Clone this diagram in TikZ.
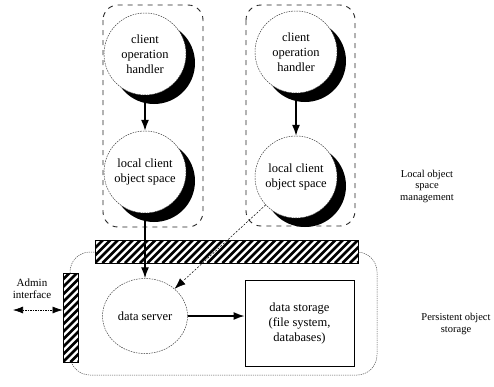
\documentclass[tikz,border=0pt]{standalone}
\usepackage{fontspec}
\setmainfont{Liberation Serif}
\usetikzlibrary{shapes.geometric,shadows,arrows.meta}

\begin{document}
\begin{tikzpicture}[x=1pt,y=-1pt,
  txt/.style={font=\fontsize{12.5}{15}\selectfont, align=center, inner sep=0pt},
  side/.style={font=\fontsize{10.5}{11.5}\selectfont, align=center, inner sep=0pt},
  thinline/.style={line width=0.5pt, dash pattern=on 1.6pt off 1pt},
  proc/.style={circle, txt, draw=black!75, thinline, fill=white, minimum size=82pt,
    general shadow={fill=black, draw=none, shadow xshift=9pt, shadow yshift=-9pt}},
  server/.style={ellipse, txt, draw=black!75, thinline, fill=white,
    minimum width=85pt, minimum height=75pt},
  store/.style={rectangle, txt, draw=black, line width=1pt, fill=white,
    minimum width=109pt, minimum height=86pt},
  group/.style={draw=black!85, line width=0.9pt, dash pattern=on 5pt off 5pt, rounded corners=15pt},
  hatchbar/.style={rectangle, draw=black, line width=0.9pt, fill=white, inner sep=0pt,
    path picture={\foreach \k in {-14,...,37}
      \draw[line width=2.5pt] ([xshift=\k*7.5pt]path picture bounding box.south west) -- ++(100pt,100pt);}},
  flow/.style={line width=1.3pt, -{Latex[length=11pt,width=8pt]}},
  weak/.style={line width=0.5pt, dash pattern=on 2pt off 1.5pt, -{Latex[length=11pt,width=8pt]}},
]
\useasboundingbox (0,0) rectangle (494,386);

% dashed groups of the local object space
\draw[group] (103,5) rectangle (203,227);
\draw[group] (246,5) rectangle (355,226);

% persistent storage outline
\draw[line width=0.5pt, dash pattern=on 1.2pt off 1pt, draw=black!70, rounded corners=20pt]
  (70,252) rectangle (377,375);

% client side processes
\node[proc] (ch1) at (145,54) {client\\operation\\handler};
\node[proc] (lc1) at (145,172) {local client\\object space};
\node[proc] (ch2) at (296,52) {client\\operation\\handler};
\node[proc] (lc2) at (296,177) {local client\\object space};

% storage layer
\node[hatchbar, minimum width=263pt, minimum height=23pt] (topbar) at (226.5,251.5) {};
\node[hatchbar, minimum width=15pt, minimum height=89pt] (sidebar) at (70.5,317.5) {};
\node[server] (ds) at (145,316) {data server};
\node[store] (st) at (299.5,323) {data storage\\(file system,\\databases)};

% labels
\node[side] (lblocal) at (427,186) {Local object\\space\\management};
\node[side] (lblpers) at (456,324) {Persistent object\\storage};
\node[side, font=\fontsize{11}{12}\selectfont] (admin) at (32,289) {Admin\\interface};
\coordinate (adminend) at (13,310);

% connectors
\draw[flow] (ch1) -- (lc1);
\draw[flow] (ch2) -- (lc2);
\draw[flow] (lc1) -- (ds);
\draw[weak] (lc2) -- (ds);
\draw[flow] (ds.east) -- (ds.east -| st.west);
\draw[line width=0.6pt, dash pattern=on 1.5pt off 1pt,
  {Latex[length=10pt,width=7pt]}-{Latex[length=10pt,width=7pt]}]
  (adminend) -- (adminend -| sidebar.west);
\end{tikzpicture}
\end{document}
